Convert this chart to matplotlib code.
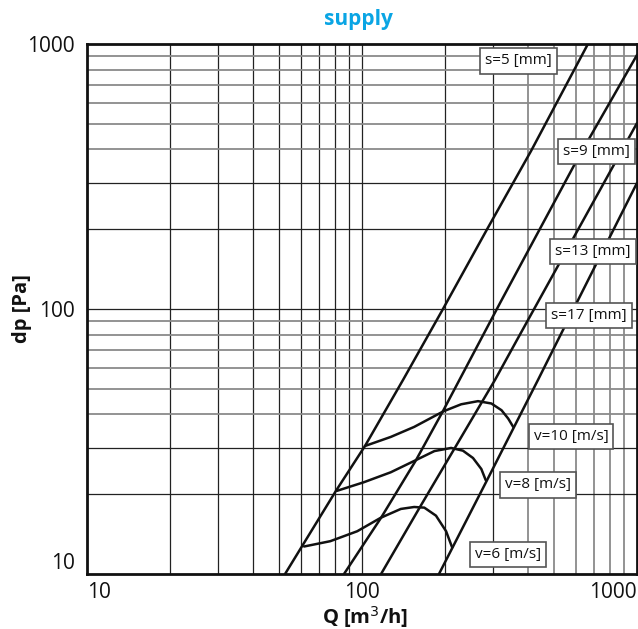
import matplotlib
matplotlib.use("Agg")
import matplotlib.pyplot as plt

# s-lines (slot width): Q [m3/h], dp [Pa]
s5_q = [52.5, 61.0, 80.4, 102.5, 141, 197, 285, 412, 663]
s5_dp = [10, 12.9, 20.6, 30.4, 54.0, 100, 200, 395, 1000]
s9_q = [86.0, 117.3, 157.2, 197, 317.6, 610, 1000]
s9_dp = [10, 16.3, 26.9, 41.2, 105.3, 371, 909]
s13_q = [117.3, 162.5, 304.5, 366, 1000]
s13_dp = [10, 17.9, 54.0, 76.4, 503]
s17_q = [190.5, 282.4, 436.5, 516, 1000]
s17_dp = [10, 22.2, 54.0, 76.4, 299]

# v-curves (face velocity)
v10_q = [102.4, 127.2, 154.8, 197.7, 229.5, 264.1, 295.4, 321.6, 340.1, 354.7]
v10_dp = [30.4, 32.9, 35.9, 41.1, 43.7, 44.9, 44.0, 41.5, 38.6, 35.9]
v8_q = [81.1, 101.6, 127.2, 157.0, 183.4, 210.9, 232.8, 253.3, 271.6, 281.8]
v8_dp = [20.6, 22.2, 24.2, 26.9, 29.1, 29.9, 29.2, 27.4, 24.9, 22.6]
v6_q = [61.6, 76.7, 96.1, 117.0, 138.4, 154.8, 168.5, 185.8, 202.2, 212.7]
v6_dp = [12.7, 13.3, 14.5, 16.3, 17.6, 17.9, 17.8, 16.6, 14.5, 12.6]

s_labels = ["s=5 [mm]", "s=9 [mm]", "s=13 [mm]", "s=17 [mm]"]
v_labels = ["v=10 [m/s]", "v=8 [m/s]", "v=6 [m/s]"]

plt.rcParams['font.family'] = ['Open Sans', 'DejaVu Sans']

fig = plt.figure(figsize=(6.38, 6.29), dpi=100)
ax = fig.add_axes([87/638, 55/629, 550/638, 530/629])
ax.set_xscale("log")
ax.set_yscale("log")
ax.set_xlim(10, 1000)
ax.set_ylim(10, 1000)

# grid: dark lines at 1,2,3 x decade, grey for the rest
for dec in [10, 100]:
    for m in range(1, 10):
        v = dec * m
        if v <= 10 or v >= 1000:
            continue
        dark = (m <= 3) or dec == 10
        ax.axvline(v, color="#222222" if dark else "#8a8a8a", lw=0.9 if dark else 1.3, zorder=1)
for dec in [10, 100]:
    for m in range(1, 10):
        v = dec * m
        if v <= 10 or v >= 1000:
            continue
        dark = m <= 3
        ax.axhline(v, color="#222222" if dark else "#8a8a8a", lw=0.9 if dark else 1.3, zorder=1)

lw = 1.8
for q, dp in [(s5_q, s5_dp), (s9_q, s9_dp), (s13_q, s13_dp), (s17_q, s17_dp),
              (v10_q, v10_dp), (v8_q, v8_dp), (v6_q, v6_dp)]:
    ax.plot(q, dp, color="#111111", lw=lw, zorder=3, solid_capstyle="round")

box = dict(boxstyle="square,pad=0.33", facecolor="white", edgecolor="#555555", lw=1.2)
label_pos = [(0.785, 0.968), (0.927, 0.798), (0.92, 0.609), (0.913, 0.487),
             (0.880, 0.260), (0.820, 0.168), (0.765, 0.036)]
for txt, (fx, fy) in zip(s_labels + v_labels, label_pos):
    ax.text(fx, fy, txt, transform=ax.transAxes, ha="center", va="center",
            fontsize=11, color="#111111", bbox=box, zorder=5)

# ticks
ax.set_xticks([10, 100, 1000])
ax.set_xticklabels(["10", "100", "1000"])
ax.set_yticks([10, 100, 1000])
ax.set_yticklabels(["10", "100", "1000"])
ax.minorticks_off()
ax.tick_params(axis="both", length=0, labelsize=15, colors="#111111")
ax.tick_params(axis="x", pad=6)
ax.tick_params(axis="y", pad=9)
xl = ax.get_xticklabels()
xl[0].set_ha("left")
xl[2].set_ha("right")
yl = ax.get_yticklabels()
yl[0].set_va("bottom")

for sp in ax.spines.values():
    sp.set_linewidth(2.0)
    sp.set_color("#111111")

fig.text(365/638, 1 - 617/629, "Q [m$^3$/h]", fontsize=14.5, fontweight="bold",
         color="#111111", ha="center", va="center")
fig.text(22/638, 1 - 309/629, "dp [Pa]", fontsize=14.5, fontweight="bold",
         color="#111111", ha="center", va="center", rotation=90)
fig.text(358/638, 1 - 20/629, "supply", fontsize=15, fontweight="bold",
         color="#0aa5e4", ha="center", va="center")

plt.savefig("out.png", dpi=100)
